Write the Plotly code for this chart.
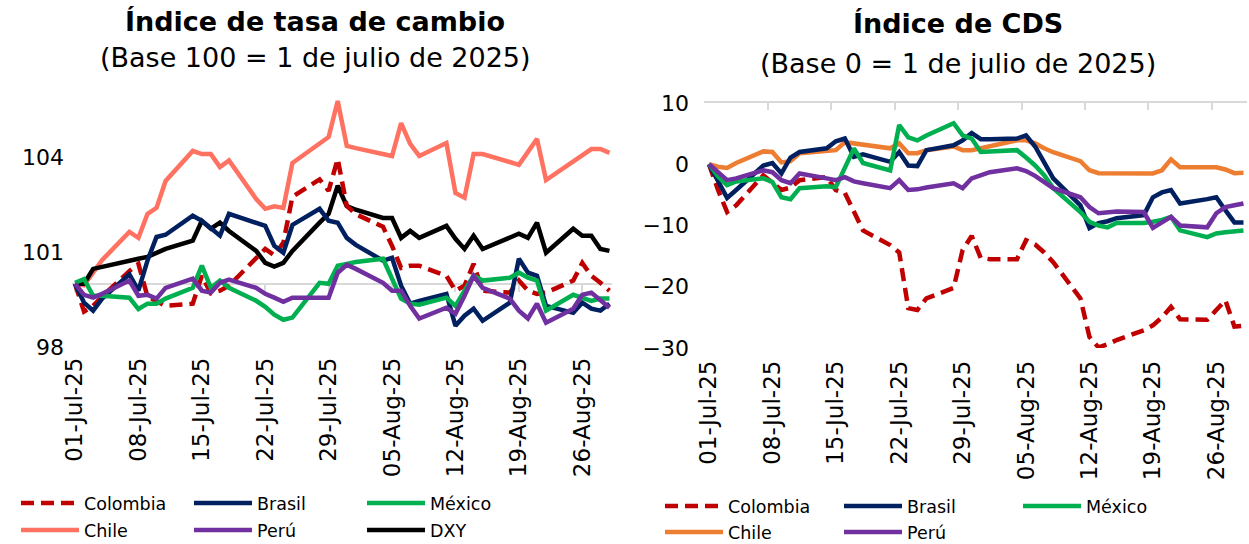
import pandas as pd
import plotly.graph_objects as go

# Business days, 1 Jul - 29 Aug 2025
fechas = [
    "2025-07-01", "2025-07-02", "2025-07-03", "2025-07-04",
    "2025-07-07", "2025-07-08", "2025-07-09", "2025-07-10", "2025-07-11",
    "2025-07-14", "2025-07-15", "2025-07-16", "2025-07-17", "2025-07-18",
    "2025-07-21", "2025-07-22", "2025-07-23", "2025-07-24", "2025-07-25",
    "2025-07-28", "2025-07-29", "2025-07-30", "2025-07-31", "2025-08-01",
    "2025-08-04", "2025-08-05", "2025-08-06", "2025-08-07", "2025-08-08",
    "2025-08-11", "2025-08-12", "2025-08-13", "2025-08-14", "2025-08-15",
    "2025-08-18", "2025-08-19", "2025-08-20", "2025-08-21", "2025-08-22",
    "2025-08-25", "2025-08-26", "2025-08-27", "2025-08-28", "2025-08-29",
]

tick_fechas = ["2025-07-01", "2025-07-08", "2025-07-15", "2025-07-22", "2025-07-29",
               "2025-08-05", "2025-08-12", "2025-08-19", "2025-08-26"]
tick_textos = ["01-Jul-25", "08-Jul-25", "15-Jul-25", "22-Jul-25", "29-Jul-25",
               "05-Aug-25", "12-Aug-25", "19-Aug-25", "26-Aug-25"]

# Exchange-rate index (base 100 = 1 Jul 2025)
tc_colombia = [100.0, 99.12, 99.3, 99.6, 100.4, 100.63, 99.6, 99.46, 99.3,
               99.37, 100.25, 99.7, 99.78, 99.94, 100.8, 101.1, 100.9, 101.3, 102.75,
               103.3, 102.94, 103.95, 102.46, 102.2, 101.8, 101.2, 100.5, 100.57, 100.57,
               100.25, 99.78, 99.94, 100.63, 99.78, 99.72, 100.1, 99.78, 99.68, 99.72,
               100.1, 100.66, 100.25, 100.03, 99.78]
tc_brasil = [100.0, 99.4, 99.15, 99.53, 100.3, 99.78, 100.73, 101.48, 101.55,
             102.15, 101.99, 101.74, 101.52, 102.21, 101.9, 101.83, 101.2, 100.98, 101.86,
             102.37, 101.99, 101.93, 101.45, 101.23, 100.73, 100.82, 99.94, 99.37, 99.46,
             99.68, 98.67, 98.99, 99.21, 98.83, 99.4, 100.79, 100.35, 100.25, 99.3,
             99.08, 99.4, 99.21, 99.15, 99.37]
tc_mexico = [100.03, 100.15, 99.62, 99.62, 99.56, 99.2, 99.37, 99.37, 99.53,
             99.87, 100.57, 99.87, 100.1, 99.87, 99.46, 99.27, 99.02, 98.86, 98.93,
             100.03, 100.0, 100.57, 100.63, 100.69, 100.79, 100.16, 99.53, 99.37, 99.34,
             99.56, 99.3, 99.78, 100.25, 100.1, 100.19, 100.35, 100.19, 100.1, 99.15,
             99.65, 99.56, 99.46, 99.53, 99.53]
tc_chile = [100.0, 99.95, 100.35, 100.75, 101.64, 101.45, 102.21, 102.4, 103.25,
            104.2, 104.1, 104.1, 103.69, 103.9, 102.68, 102.37, 102.45, 102.4, 103.82,
            104.45, 104.64, 105.78, 104.36, 104.29, 104.1, 104.04, 105.08, 104.42, 104.04,
            104.45, 102.87, 102.72, 104.1, 104.1, 103.85, 103.76, 104.17, 104.58, 103.28,
            103.88, 104.04, 104.26, 104.26, 104.14]
tc_peru = [100.0, 99.65, 99.56, 99.68, 100.1, 99.62, 99.65, 99.53, 99.87,
           100.16, 99.78, 99.72, 100.03, 100.13, 99.87, 99.68, 99.56, 99.43, 99.56,
           99.56, 99.56, 100.35, 100.6, 100.47, 100.03, 99.78, 99.78, 99.3, 98.9,
           99.24, 99.05, 99.62, 100.25, 99.87, 99.53, 99.15, 98.9, 99.37, 98.77,
           99.21, 99.65, 99.72, 99.46, 99.24]
tc_dxy = [100.0, 100.0, 100.47, 100.54, 100.73, 100.79, 100.85, 100.98, 101.1,
          101.36, 101.99, 101.74, 101.93, 101.67, 101.04, 100.66, 100.54, 100.66, 101.04,
          101.93, 102.21, 103.1, 102.46, 102.34, 102.08, 102.08, 101.45, 101.67, 101.45,
          101.83, 101.42, 101.1, 101.52, 101.1, 101.45, 101.58, 101.45, 101.93, 100.98,
          101.74, 101.52, 101.52, 101.1, 101.04]

# CDS index (base 0 = 1 Jul 2025)
cds_colombia = [0.0, -4.2, -7.8, -6.7, -1.8, -3.1, -4.2, -3.8, -2.6,
                -2.1, -4.2, -4.7, -7.8, -10.8, -13.2, -14.4, -23.5, -23.8, -21.9,
                -20.2, -14.0, -11.7, -15.3, -15.5, -15.5, -12.4, -13.1, -14.4, -16.0,
                -21.9, -28.2, -29.9, -29.4, -28.7, -27.1, -26.3, -25.0, -23.3, -25.3,
                -25.4, -23.8, -22.2, -26.5, -26.4]
cds_brasil = [0.0, -2.8, -5.5, -4.2, -0.2, 0.2, -1.5, 1.1, 2.0,
              2.6, 3.75, 4.2, 1.2, 1.6, 0.4, 2.0, -0.2, -0.3, 2.3,
              3.1, 3.9, 5.1, 4.1, 4.1, 4.2, 4.7, 2.9, 0.3, -2.3,
              -6.7, -10.4, -9.6, -9.3, -8.8, -8.3, -5.4, -4.6, -4.2, -6.4,
              -5.7, -5.4, -7.5, -9.5, -9.5]
cds_mexico = [0.0, -2.0, -3.4, -2.8, -2.3, -2.9, -5.4, -5.7, -3.9,
              -3.6, -3.75, -0.5, 2.6, 0.2, -1.0, 6.4, 4.4, 3.9, 4.7,
              6.7, 4.7, 4.2, 2.0, 2.1, 2.3, 1.1, -0.2, -1.8, -3.9,
              -7.8, -9.4, -10.0, -10.3, -9.6, -9.6, -9.4, -9.1, -8.6, -10.8,
              -11.9, -11.3, -11.1, -10.9, -10.8]
cds_chile = [0.0, -0.4, -0.6, 0.2, 2.1, 2.0, 0.3, 0.5, 1.8,
             2.2, 2.3, 3.6, 3.4, 3.3, 2.6, 3.4, 1.8, 1.8, 2.3,
             2.9, 2.3, 2.3, 2.6, 2.9, 3.9, 3.9, 3.4, 2.6, 1.96,
             0.5, -0.98, -1.47, -1.5, -1.5, -1.5, -1.5, -0.98, 0.8, -0.5,
             -0.5, -0.5, -0.85, -1.45, -1.4]
cds_peru = [0.0, -1.3, -2.6, -2.3, -1.0, -1.3, -2.6, -3.1, -1.5,
            -2.3, -2.6, -2.1, -2.8, -3.1, -3.9, -2.6, -4.2, -4.1, -3.8,
            -3.1, -3.9, -2.3, -1.8, -1.3, -0.65, -1.1, -1.9, -2.9, -3.9,
            -5.4, -7.0, -8.0, -7.8, -7.7, -7.8, -10.4, -9.5, -8.6, -10.0,
            -10.3, -8.0, -7.0, -6.7, -6.4]

W, H = 1249, 544
FONT = "DejaVu Sans"
GRIS = "#D9D9D9"
ANCHO = 4.5


def fx(px):
    return px / W


def fy(px):
    return 1 - px / H


def dia(fecha, dias):
    return (pd.Timestamp(fecha) + pd.Timedelta(days=dias)).strftime("%Y-%m-%d %H:%M")


# pixel frames of the two plot areas
IZQ_X, IZQ_Y = (72, 612), (94, 347)
DER_X, DER_Y = (704, 1247), (103, 348)
rango_izq = [dia(fechas[0], -0.33), dia(fechas[-1], 0.28)]
rango_der = [dia(fechas[0], -0.55), dia(fechas[-1], 0.39)]
y_izq = [98, 106]
y_der = [-30, 10]

DASH = "13px,7px"
series_tc = [
    ("Colombia", tc_colombia, "#C00000", DASH, "legend"),
    ("Brasil", tc_brasil, "#002060", "solid", "legend"),
    ("México", tc_mexico, "#00B050", "solid", "legend"),
    ("Chile", tc_chile, "#FF7262", "solid", "legend2"),
    ("Perú", tc_peru, "#7030A0", "solid", "legend2"),
    ("DXY", tc_dxy, "#000000", "solid", "legend2"),
]
series_cds = [
    ("Colombia", cds_colombia, "#C00000", DASH, "legend3"),
    ("Brasil", cds_brasil, "#002060", "solid", "legend3"),
    ("México", cds_mexico, "#00B050", "solid", "legend3"),
    ("Chile", cds_chile, "#ED7D31", "solid", "legend4"),
    ("Perú", cds_peru, "#7030A0", "solid", "legend4"),
]

fig = go.Figure()

# draw order: Chile/DXY underneath, then the others, Perú on top
orden_tc = [3, 5, 0, 1, 2, 4]
for i in orden_tc:
    nombre, vals, color, dash, leg = series_tc[i]
    fig.add_trace(go.Scatter(
        x=fechas, y=vals, name=nombre, mode="lines",
        line=dict(color=color, width=ANCHO, dash=dash),
        xaxis="x", yaxis="y", legend=leg, legendrank=i,
    ))

orden_cds = [0, 3, 1, 2, 4]
for i in orden_cds:
    nombre, vals, color, dash, leg = series_cds[i]
    fig.add_trace(go.Scatter(
        x=fechas, y=vals, name=nombre, mode="lines",
        line=dict(color=color, width=ANCHO, dash=dash),
        xaxis="x2", yaxis="y2", legend=leg, legendrank=i,
    ))

# carriers for the axis-line overlays
fig.add_trace(go.Scatter(x=[fechas[0]], y=[None], xaxis="x3", yaxis="y",
                         showlegend=False, hoverinfo="skip"))
fig.add_trace(go.Scatter(x=[fechas[0]], y=[None], xaxis="x4", yaxis="y2",
                         showlegend=False, hoverinfo="skip"))

xtick_font = dict(family=FONT, size=23, color="#000000")
ytick_font = dict(family=FONT, size=22, color="#000000")
base_x = dict(type="date", showgrid=False, zeroline=False, showline=False,
              ticks="", tickangle=-90, tickfont=xtick_font, fixedrange=True,
              tickvals=tick_fechas, ticktext=tick_textos, ticklabelstandoff=5)
base_y = dict(showgrid=False, zeroline=False, showline=False, ticks="",
              tickfont=ytick_font, fixedrange=True)

dom_y_izq = [fy(IZQ_Y[1]), fy(IZQ_Y[0])]
pos_100 = dom_y_izq[0] + (100 - y_izq[0]) / (y_izq[1] - y_izq[0]) * (dom_y_izq[1] - dom_y_izq[0])
ticks_der = [dia(t, -0.5) for t in tick_fechas]

fig.update_layout(
    width=W, height=H,
    margin=dict(l=0, r=0, t=0, b=0, autoexpand=False),
    paper_bgcolor="white", plot_bgcolor="white",
    font=dict(family=FONT, color="#000000"),
    xaxis=dict(base_x, domain=[fx(IZQ_X[0]), fx(IZQ_X[1])], anchor="y", range=rango_izq),
    yaxis=dict(base_y, domain=dom_y_izq, anchor="x", range=y_izq, tickvals=[98, 101, 104],
               ticklabelstandoff=7),
    xaxis2=dict(base_x, domain=[fx(DER_X[0]), fx(DER_X[1])], anchor="y2", range=rango_der,
                ticklabelstandoff=7),
    yaxis2=dict(base_y, domain=[fy(DER_Y[1]), fy(DER_Y[0])], anchor="x2", range=y_der,
                tickvals=[-30, -20, -10, 0, 10], ticklabelstandoff=14),
    xaxis3=dict(type="date", overlaying="x", anchor="free", position=pos_100,
                domain=[fx(IZQ_X[0]), fx(IZQ_X[1])], range=rango_izq,
                showgrid=False, zeroline=False, showticklabels=False,
                tickvals=tick_fechas, ticks="outside", ticklen=7, tickwidth=1.5, tickcolor=GRIS,
                showline=True, linecolor=GRIS, linewidth=1.5, layer="below traces",
                fixedrange=True),
    xaxis4=dict(type="date", overlaying="x2", anchor="y2", side="top",
                domain=[fx(DER_X[0]), fx(DER_X[1])], range=rango_der,
                showgrid=False, zeroline=False, showticklabels=False,
                tickvals=ticks_der, ticks="inside", ticklen=7, tickwidth=1.5, tickcolor=GRIS,
                showline=True, linecolor=GRIS, linewidth=1.5, layer="below traces",
                fixedrange=True),
    showlegend=True,
)

leg_base = dict(orientation="h", xanchor="left", yanchor="middle", bgcolor="rgba(0,0,0,0)",
                font=dict(family=FONT, size=17.5, color="#000000"), itemwidth=58,
                entrywidth=100, tracegroupgap=0, traceorder="normal")
fig.update_layout(
    legend=dict(leg_base, x=fx(16), y=fy(503)),
    legend2=dict(leg_base, x=fx(16), y=fy(530)),
    legend3=dict(leg_base, x=fx(660), y=fy(506), entrywidth=106),
    legend4=dict(leg_base, x=fx(660), y=fy(532), entrywidth=106),
)

titulos = [
    (315, 22, "<b>Índice de tasa de cambio</b>"),
    (315, 58, "(Base 100 = 1 de julio de 2025)"),
    (958, 24, "<b>Índice de CDS</b>"),
    (958, 63, "(Base 0 = 1 de julio de 2025)"),
]
for cx, cy, txt in titulos:
    fig.add_annotation(x=fx(cx), y=fy(cy), xref="paper", yref="paper", text=txt,
                       showarrow=False, xanchor="center", yanchor="middle",
                       font=dict(family=FONT, size=27, color="#000000"))

fig.write_html("out.html")
